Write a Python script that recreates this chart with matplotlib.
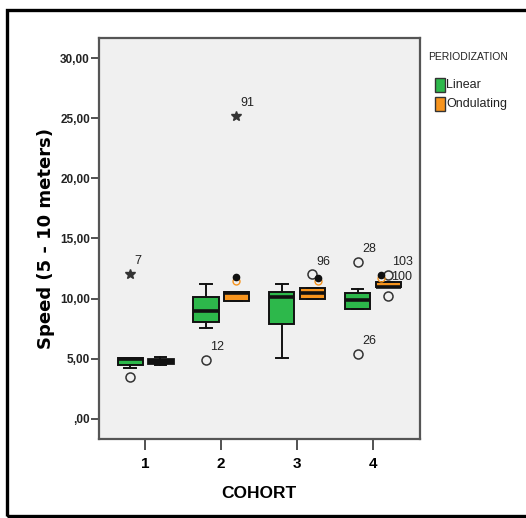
import matplotlib
matplotlib.use("Agg")
import matplotlib.pyplot as plt
from matplotlib.patches import Rectangle

# ---------------- data ----------------
cohorts = [1, 2, 3, 4]
groups = ["Linear", "Ondulating"]

lin_whislo = [4.25, 7.52, 5.07, 9.13]
lin_q1     = [4.45, 8.08, 7.86, 9.13]
lin_med    = [4.95, 8.94, 10.15, 9.87]
lin_q3     = [5.05, 10.11, 10.52, 10.47]
lin_whishi = [5.05, 11.20, 11.22, 10.82]

ond_whislo = [4.45, 9.79, 10.00, 10.95]
ond_q1     = [4.60, 9.79, 10.00, 10.95]
ond_med    = [4.80, 10.45, 10.47, 11.00]
ond_q3     = [5.00, 10.55, 10.90, 11.35]
ond_whishi = [5.15, 10.55, 10.90, 11.35]

# outliers: (cohort, group, value, label)
circ_cohort = [1, 2, 3, 4, 4, 4, 4]
circ_group  = [0, 0, 1, 0, 0, 1, 1]
circ_value  = [3.45, 4.87, 12.02, 13.05, 5.38, 12.0, 10.25]
circ_label  = ["", "12", "96", "28", "26", "103", ""]

dot_cohort = [2, 3, 4]
dot_group  = [1, 1, 1]
dot_value  = [11.8, 11.74, 12.0]

star_cohort = [1, 2]
star_group  = [0, 1]
star_value  = [12.05, 25.2]
star_label  = ["7", "91"]

extra_label_cohort = [4]
extra_label_group  = [1]
extra_label_value  = [11.55]
extra_label_text   = ["100"]

yticks = [0, 5, 10, 15, 20, 25, 30]
ytick_labels = [",00", "5,00", "10,00", "15,00", "20,00", "25,00", "30,00"]

# ---------------- style ----------------
GREEN = "#2db84b"
ORANGE = "#f7941d"
colors = [GREEN, ORANGE]
offsets = [-0.2, 0.2]
BW = 0.33
ARIAL = ["Liberation Sans", "DejaVu Sans"]

fig = plt.figure(figsize=(5.26, 5.18), dpi=100)
fig.patch.set_facecolor("white")
ax = fig.add_axes([99/526, 1-439/518, (420-99)/526, (439-38)/518])
ax.set_facecolor("#f0f0f0")

def stats(i, lo, q1, med, q3, hi):
    return dict(whislo=lo[i], q1=q1[i], med=med[i], q3=q3[i], whishi=hi[i], fliers=[])

lin_stats = [stats(i, lin_whislo, lin_q1, lin_med, lin_q3, lin_whishi) for i in range(4)]
ond_stats = [stats(i, ond_whislo, ond_q1, ond_med, ond_q3, ond_whishi) for i in range(4)]

for g, st in enumerate([lin_stats, ond_stats]):
    pos = [c + offsets[g] for c in cohorts]
    res = ax.bxp(st, positions=pos, widths=BW, patch_artist=True, showfliers=False,
                 boxprops=dict(facecolor=colors[g], edgecolor="#111111", linewidth=1.4),
                 medianprops=dict(color="#111111", linewidth=2.6),
                 whiskerprops=dict(color="#111111", linewidth=1.4),
                 capprops=dict(color="#111111", linewidth=1.4),
                 capwidths=BW * 0.45, manage_ticks=False)
    if g == 1:
        # the very short first box renders almost solid black in the reference
        res["boxes"][0].set_facecolor("#111111")
        res["boxes"][0].set_linewidth(2.0)

LBL = 9
# circles
for c, g, v, lab in zip(circ_cohort, circ_group, circ_value, circ_label):
    x = c + offsets[g]
    ax.plot(x, v, marker="o", ms=6.5, mfc="none", mec="#333333", mew=1.1, zorder=5)
    if lab:
        ax.annotate(lab, (x, v), xytext=(3, 7), textcoords="offset points",
                    fontsize=LBL, color="#222222", family=ARIAL, zorder=6)
# black dots
for c, g, v in zip(dot_cohort, dot_group, dot_value):
    x = c + offsets[g] + (0.08 if c == 3 else (-0.09 if c == 4 else 0))
    ax.plot(x, v - 0.3, marker="o", ms=5, mfc="none", mec=ORANGE, mew=1.0, zorder=5)
    ax.plot(x, v, marker="o", ms=4.5, mfc="#111111", mec="#111111", zorder=6)
# stars
for c, g, v, lab in zip(star_cohort, star_group, star_value, star_label):
    x = c + offsets[g]
    ax.plot(x, v, marker="*", ms=7, mfc="#333333", mec="#333333", zorder=5)
    ax.annotate(lab, (x, v), xytext=(3, 7), textcoords="offset points",
                fontsize=LBL, color="#222222", family=ARIAL, zorder=6)
for c, g, v, t in zip(extra_label_cohort, extra_label_group, extra_label_value, extra_label_text):
    ax.annotate(t, (c + offsets[g], v), xytext=(2, 0), textcoords="offset points",
                fontsize=LBL, color="#222222", family=ARIAL, zorder=6)

ax.set_xlim(0.39, 4.62)
ax.set_ylim(-1.7, 31.7)
ax.set_yticks(yticks)
ax.set_yticklabels(ytick_labels, fontsize=8.5, fontweight="bold", family=ARIAL, color="#222222")
ax.set_xticks(cohorts)
ax.set_xticklabels([str(c) for c in cohorts], fontsize=11, fontweight="bold", family=ARIAL)
ax.tick_params(axis="y", direction="out", length=6, width=1.2, color="#333333", pad=0.5)
ax.tick_params(axis="x", direction="out", length=8, width=1.2, color="#333333", pad=5)
for s in ax.spines.values():
    s.set_color("#555555")
    s.set_linewidth(1.6)

ax.set_ylabel("Speed (5 - 10 meters)", fontsize=13, fontweight="bold")
ax.yaxis.set_label_coords(-0.138, 0.5)
ax.set_xlabel("COHORT", fontsize=12.5, fontweight="bold", family=ARIAL)
ax.xaxis.set_label_coords(0.497, -0.118)

# legend
fig.text(428/526, 1-57/518, "PERIODIZATION", fontsize=7.5, family=ARIAL, va="center", color="#222222")
for k, (lab, col) in enumerate(zip(groups, colors)):
    yc = 1 - (85 + 19*k)/518
    fig.patches.append(Rectangle((435/526, yc - 7/518), 10/526, 14/518, transform=fig.transFigure,
                                 facecolor=col, edgecolor="#333333", linewidth=1.0))
    fig.text(446/526, yc, lab, fontsize=9, family=ARIAL, va="center", color="#222222")

# outer frame
fig.patches.append(Rectangle((7/526, 2/518), 525/526, 506/518, transform=fig.transFigure,
                             facecolor="none", edgecolor="black", linewidth=2.4))

fig.savefig("out.png", dpi=100)
